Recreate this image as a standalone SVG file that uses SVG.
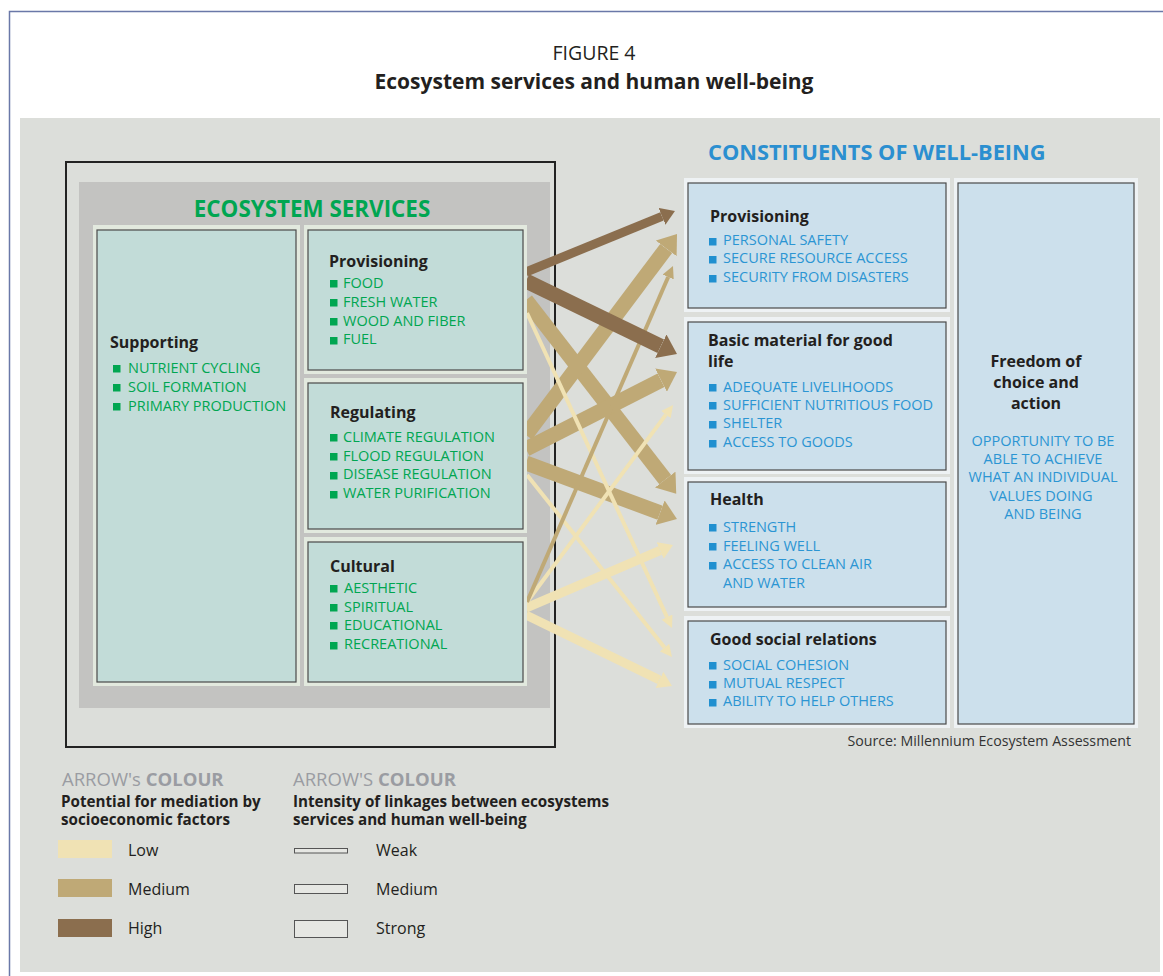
<svg xmlns="http://www.w3.org/2000/svg" width="1163" height="976" viewBox="0 0 1163 976">
<style>
text{font-family:"Open Sans","Noto Sans","Liberation Sans",sans-serif;}
.hd{font-weight:700;font-size:16px;fill:#231f20;}
.ig{font-size:14.5px;fill:#00a651;}
.ib{font-size:14.5px;fill:#2b95d3;}
.sg{fill:#00a651;}
.sb{fill:#2090d0;}
.esframe{fill:#e2e9de;}
.esbox{fill:#c2dcd8;stroke:#4a4a4a;stroke-width:1.2;}
.cwframe{fill:#eef2f4;}
.cwbox{fill:#cce0ec;stroke:#4a4a4a;stroke-width:1.2;}
.lo{stroke:#f0e2b4;fill:none;}
.md{stroke:#bfa976;fill:none;}
.hi{stroke:#8b6e4e;fill:none;}
.lg{font-size:16px;fill:#231f20;}
.lgt{font-weight:700;font-size:15.2px;fill:#231f20;}
.arr{font-size:18.5px;fill:#9a9ca2;}
</style>
<defs>
<marker id="hHiS" viewBox="0 -13 18 26" markerWidth="18" markerHeight="26" refX="0" refY="0" orient="auto" markerUnits="userSpaceOnUse"><path d="M0,-13 L18,0 L0,13 Z" fill="#8b6e4e"/></marker>
<marker id="hHiM" viewBox="0 -9 14 18" markerWidth="14" markerHeight="18" refX="0" refY="0" orient="auto" markerUnits="userSpaceOnUse"><path d="M0,-9 L14,0 L0,9 Z" fill="#8b6e4e"/></marker>
<marker id="hMdS" viewBox="0 -13 18 26" markerWidth="18" markerHeight="26" refX="0" refY="0" orient="auto" markerUnits="userSpaceOnUse"><path d="M0,-13 L18,0 L0,13 Z" fill="#bfa976"/></marker>
<marker id="hMdW" viewBox="0 -6 12 12" markerWidth="12" markerHeight="12" refX="0" refY="0" orient="auto" markerUnits="userSpaceOnUse"><path d="M0,-6 L12,0 L0,6 Z" fill="#bfa976"/></marker>
<marker id="hLoW" viewBox="0 -6 12 12" markerWidth="12" markerHeight="12" refX="0" refY="0" orient="auto" markerUnits="userSpaceOnUse"><path d="M0,-6 L12,0 L0,6 Z" fill="#f0e2b4"/></marker>
<marker id="hLoM" viewBox="0 -9 14 18" markerWidth="14" markerHeight="18" refX="0" refY="0" orient="auto" markerUnits="userSpaceOnUse"><path d="M0,-9 L14,0 L0,9 Z" fill="#f0e2b4"/></marker>
</defs>

<rect x="0" y="0" width="1163" height="976" fill="#ffffff"/>
<rect x="9.5" y="11.5" width="1170" height="980" fill="none" stroke="#6a78a8" stroke-width="1.5"/>

<g id="title">
<text x="594" y="60" text-anchor="middle" font-size="19.5" fill="#231f20">FIGURE 4</text>
<text x="594" y="89" text-anchor="middle" font-size="21" font-weight="700" fill="#231f20">Ecosystem services and human well-being</text>
</g>

<rect x="20" y="118" width="1140" height="854" fill="#dcdeda"/>

<g id="ecosystem-services-frame">
<rect x="66" y="162" width="489" height="585" fill="none" stroke="#222" stroke-width="2"/>
<rect x="79" y="182" width="471" height="526" fill="#c3c3c1"/>
<text x="312" y="217" text-anchor="middle" font-size="22.4" font-weight="700" fill="#00a651">ECOSYSTEM SERVICES</text>
</g>

<g id="connectors">
<path class="md" stroke-width="15" d="M526,300 L665.2,479.6" marker-end="url(#hMdS)"/>
<path class="md" stroke-width="15" d="M526,435 L666.2,248.4" marker-end="url(#hMdS)"/>
<path class="md" stroke-width="15" d="M526,449 L661,380.2" marker-end="url(#hMdS)"/>
<path class="md" stroke-width="15" d="M526,463 L660.1,512.7" marker-end="url(#hMdS)"/>
<path class="lo" stroke-width="4" d="M527,313 L667,617.1" marker-end="url(#hLoW)"/>
<path class="lo" stroke-width="4" d="M527,475 L664.5,647.6" marker-end="url(#hLoW)"/>
<path class="lo" stroke-width="4" d="M527,602 L665.9,414.6" marker-end="url(#hLoW)"/>
<path class="lo" stroke-width="9" d="M526,608 L660.1,550.5" marker-end="url(#hLoM)"/>
<path class="lo" stroke-width="9" d="M526,615 L659.4,679.9" marker-end="url(#hLoM)"/>
<path class="md" stroke-width="4" d="M527,602 L668.2,277" marker-end="url(#hMdW)"/>
<path class="hi" stroke-width="9" d="M526,272 L662,216.3" marker-end="url(#hHiM)"/>
<path class="hi" stroke-width="15" d="M526,281 L660.8,346.2" marker-end="url(#hHiS)"/>
</g>

<g id="es-supporting">
<rect class="esframe" x="93" y="225" width="207" height="461"/>
<rect class="esbox" x="97" y="230" width="199" height="452"/>
<text class="hd" x="110" y="348">Supporting</text>
<rect class="sg" x="113" y="365" width="7.5" height="7.5"/><text class="ig" x="128" y="373">NUTRIENT CYCLING</text>
<rect class="sg" x="113" y="384" width="7.5" height="7.5"/><text class="ig" x="128" y="392">SOIL FORMATION</text>
<rect class="sg" x="113" y="403" width="7.5" height="7.5"/><text class="ig" x="128" y="411">PRIMARY PRODUCTION</text>
</g>

<g id="es-provisioning">
<rect class="esframe" x="304" y="225" width="223" height="149"/>
<rect class="esbox" x="308" y="230" width="215" height="140"/>
<text class="hd" x="329" y="267">Provisioning</text>
<rect class="sg" x="330" y="280" width="7.5" height="7.5"/><text class="ig" x="343" y="288">FOOD</text>
<rect class="sg" x="330" y="299" width="7.5" height="7.5"/><text class="ig" x="343" y="307">FRESH WATER</text>
<rect class="sg" x="330" y="318" width="7.5" height="7.5"/><text class="ig" x="343" y="326">WOOD AND FIBER</text>
<rect class="sg" x="330" y="337" width="7.5" height="7.5"/><text class="ig" x="343" y="344">FUEL</text>
</g>

<g id="es-regulating">
<rect class="esframe" x="304" y="378" width="223" height="155"/>
<rect class="esbox" x="308" y="383" width="215" height="146"/>
<text class="hd" x="330" y="418">Regulating</text>
<rect class="sg" x="330" y="434" width="7.5" height="7.5"/><text class="ig" x="343" y="442">CLIMATE REGULATION</text>
<rect class="sg" x="330" y="453" width="7.5" height="7.5"/><text class="ig" x="343" y="461">FLOOD REGULATION</text>
<rect class="sg" x="330" y="472" width="7.5" height="7.5"/><text class="ig" x="343" y="479">DISEASE REGULATION</text>
<rect class="sg" x="330" y="491" width="7.5" height="7.5"/><text class="ig" x="343" y="498">WATER PURIFICATION</text>
</g>

<g id="es-cultural">
<rect class="esframe" x="304" y="537" width="223" height="149"/>
<rect class="esbox" x="308" y="542" width="215" height="140"/>
<text class="hd" x="330" y="572">Cultural</text>
<rect class="sg" x="330" y="585" width="7.5" height="7.5"/><text class="ig" x="344" y="593">AESTHETIC</text>
<rect class="sg" x="330" y="604" width="7.5" height="7.5"/><text class="ig" x="344" y="612">SPIRITUAL</text>
<rect class="sg" x="330" y="622" width="7.5" height="7.5"/><text class="ig" x="344" y="630">EDUCATIONAL</text>
<rect class="sg" x="330" y="642" width="7.5" height="7.5"/><text class="ig" x="344" y="649">RECREATIONAL</text>
</g>

<text x="708" y="160" font-size="21.8" font-weight="700" fill="#2b8fd0">CONSTITUENTS OF WELL-BEING</text>

<g id="cw-provisioning">
<rect class="cwframe" x="684" y="178" width="266" height="134"/>
<rect class="cwbox" x="688" y="183" width="258" height="125"/>
<text class="hd" x="710" y="222">Provisioning</text>
<rect class="sb" x="709" y="238" width="7.5" height="7.5"/><text class="ib" x="723" y="245">PERSONAL SAFETY</text>
<rect class="sb" x="709" y="256" width="7.5" height="7.5"/><text class="ib" x="723" y="263">SECURE RESOURCE ACCESS</text>
<rect class="sb" x="709" y="275" width="7.5" height="7.5"/><text class="ib" x="723" y="282">SECURITY FROM DISASTERS</text>
</g>

<g id="cw-basic">
<rect class="cwframe" x="684" y="317" width="266" height="157"/>
<rect class="cwbox" x="688" y="322" width="258" height="148"/>
<text class="hd" x="708" y="346">Basic material for good</text>
<text class="hd" x="708" y="367">life</text>
<rect class="sb" x="709" y="384" width="7.5" height="7.5"/><text class="ib" x="723" y="392">ADEQUATE LIVELIHOODS</text>
<rect class="sb" x="709" y="402" width="7.5" height="7.5"/><text class="ib" x="723" y="410">SUFFICIENT NUTRITIOUS FOOD</text>
<rect class="sb" x="709" y="421" width="7.5" height="7.5"/><text class="ib" x="723" y="428">SHELTER</text>
<rect class="sb" x="709" y="440" width="7.5" height="7.5"/><text class="ib" x="723" y="447">ACCESS TO GOODS</text>
</g>

<g id="cw-health">
<rect class="cwframe" x="684" y="477" width="266" height="134"/>
<rect class="cwbox" x="688" y="482" width="258" height="125"/>
<text class="hd" x="710" y="505">Health</text>
<rect class="sb" x="709" y="524" width="7.5" height="7.5"/><text class="ib" x="723" y="532">STRENGTH</text>
<rect class="sb" x="709" y="543" width="7.5" height="7.5"/><text class="ib" x="723" y="551">FEELING WELL</text>
<rect class="sb" x="709" y="562" width="7.5" height="7.5"/><text class="ib" x="723" y="569">ACCESS TO CLEAN AIR</text>
<text class="ib" x="723" y="588">AND WATER</text>
</g>

<g id="cw-social">
<rect class="cwframe" x="684" y="616" width="266" height="112"/>
<rect class="cwbox" x="688" y="621" width="258" height="103"/>
<text class="hd" x="710" y="645">Good social relations</text>
<rect class="sb" x="709" y="662" width="7.5" height="7.5"/><text class="ib" x="723" y="670">SOCIAL COHESION</text>
<rect class="sb" x="709" y="681" width="7.5" height="7.5"/><text class="ib" x="723" y="688">MUTUAL RESPECT</text>
<rect class="sb" x="709" y="699" width="7.5" height="7.5"/><text class="ib" x="723" y="706">ABILITY TO HELP OTHERS</text>
</g>

<g id="cw-freedom">
<rect class="cwframe" x="954" y="178" width="184" height="550"/>
<rect class="cwbox" x="958" y="183" width="176" height="541"/>
<text class="hd" x="1036" y="367" text-anchor="middle">Freedom of</text>
<text class="hd" x="1036" y="388" text-anchor="middle">choice and</text>
<text class="hd" x="1036" y="409" text-anchor="middle">action</text>
<text class="ib" x="1043" y="446" text-anchor="middle">OPPORTUNITY TO BE</text>
<text class="ib" x="1043" y="464" text-anchor="middle">ABLE TO ACHIEVE</text>
<text class="ib" x="1043" y="482" text-anchor="middle">WHAT AN INDIVIDUAL</text>
<text class="ib" x="1041" y="501" text-anchor="middle">VALUES DOING</text>
<text class="ib" x="1043" y="519" text-anchor="middle">AND BEING</text>
</g>

<text x="1131" y="746" text-anchor="end" font-size="14.2" fill="#333333">Source: Millennium Ecosystem Assessment</text>

<g id="legend-colour">
<text class="arr" x="62" y="786">ARROW's <tspan font-weight="700">COLOUR</tspan></text>
<text class="lgt" x="61" y="806.5">Potential for mediation by</text>
<text class="lgt" x="61" y="825">socioeconomic factors</text>
<rect x="58" y="840" width="54" height="18" fill="#f0e2b4"/>
<text class="lg" x="128" y="856">Low</text>
<rect x="58" y="879" width="54" height="18" fill="#bfa976"/>
<text class="lg" x="128" y="895">Medium</text>
<rect x="58" y="919" width="54" height="18" fill="#8b6e4e"/>
<text class="lg" x="128" y="934">High</text>
</g>

<g id="legend-width">
<text class="arr" x="293" y="786">ARROW'S <tspan font-weight="700">COLOUR</tspan></text>
<text class="lgt" x="293" y="806.5">Intensity of linkages between ecosystems</text>
<text class="lgt" x="293" y="825">services and human well-being</text>
<rect x="294.5" y="848.5" width="53" height="4.5" fill="#e6e7e3" stroke="#555" stroke-width="1"/>
<text class="lg" x="376" y="856">Weak</text>
<rect x="294.5" y="884.5" width="53" height="9" fill="#e6e7e3" stroke="#555" stroke-width="1"/>
<text class="lg" x="376" y="895">Medium</text>
<rect x="294.5" y="920.5" width="53" height="17" fill="#e6e7e3" stroke="#555" stroke-width="1"/>
<text class="lg" x="376" y="934">Strong</text>
</g>
</svg>
